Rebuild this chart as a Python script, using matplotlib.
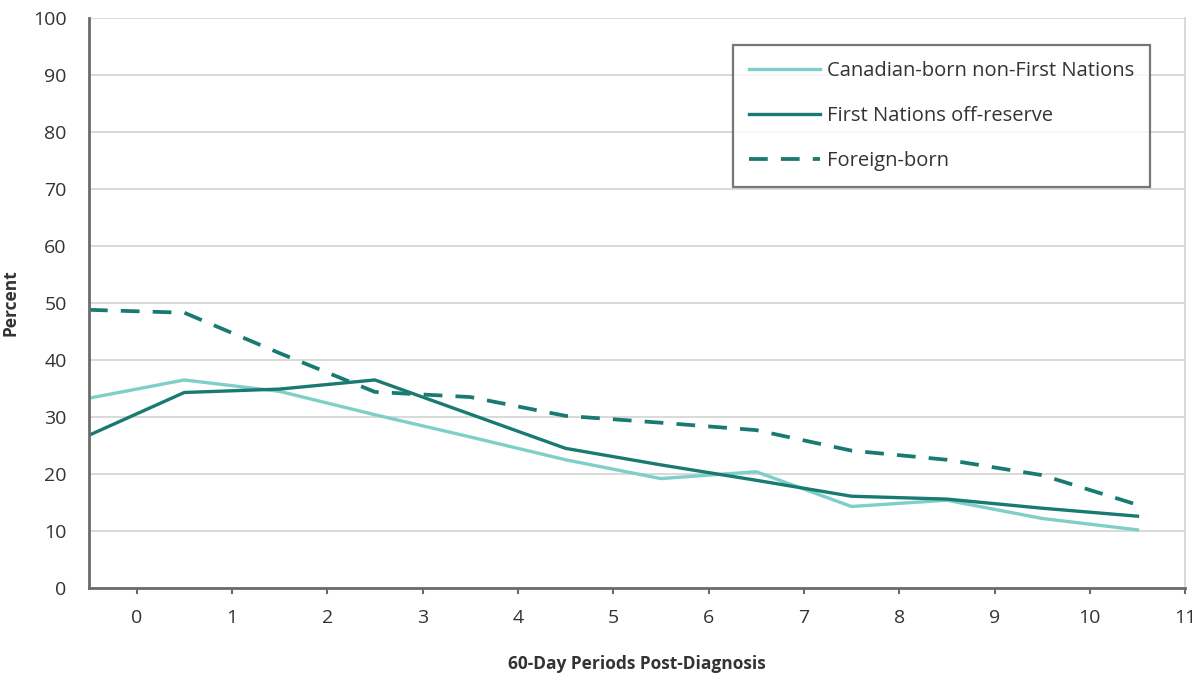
import matplotlib.pyplot as plt

plt.rcParams['font.family'] = ['Open Sans', 'DejaVu Sans']

# data points sit between the tick marks (category-style axis)
periods = [-0.5, 0.5, 1.5, 2.5, 3.5, 4.5, 5.5, 6.5, 7.5, 8.5, 9.5, 10.5]
canadian_born = [33.3, 36.5, 34.5, 30.4, 26.5, 22.5, 19.2, 20.4, 14.3, 15.4, 12.2, 10.2]
first_nations = [26.8, 34.3, 34.9, 36.5, 30.5, 24.5, 21.6, 18.9, 16.1, 15.6, 14.0, 12.6]
foreign_born = [48.8, 48.3, 41.2, 34.4, 33.5, 30.2, 29.0, 27.7, 24.1, 22.5, 19.8, 14.6]

x_ticks = list(range(0, 12))
y_ticks = list(range(0, 101, 10))

light_teal = "#7fcfc9"
dark_teal = "#187a70"

fig = plt.figure(figsize=(12.02, 6.79), dpi=100)
ax = fig.add_axes([0.074, 0.134, 0.912, 0.8395])

ax.plot(periods, canadian_born, color=light_teal, lw=2.4, label="Canadian-born non-First Nations")
ax.plot(periods, first_nations, color=dark_teal, lw=2.4, label="First Nations off-reserve")
ax.plot(periods, foreign_born, color=dark_teal, lw=2.7, dashes=(5, 3.5), label="Foreign-born")

ax.set_xlim(-0.5, 11)
ax.set_ylim(0, 100)
ax.set_xticks(x_ticks)
ax.set_yticks(y_ticks)
ax.grid(axis="y", color="#d9d9d9", lw=1.4)
ax.set_axisbelow(True)

for side in ["left", "bottom"]:
    ax.spines[side].set_color("#6b6b6b")
    ax.spines[side].set_linewidth(2)
ax.spines["right"].set_color("#d9d9d9")
ax.spines["right"].set_linewidth(1.4)
ax.spines["top"].set_visible(False)

ax.tick_params(axis="x", length=4, width=1.5, color="#6b6b6b", labelsize=14, labelcolor="#333333", pad=11)
ax.tick_params(axis="y", length=0, labelsize=14, labelcolor="#333333", pad=16)

ax.set_xlabel("60-Day Periods Post-Diagnosis", fontsize=12.5, fontweight="bold", color="#333333", labelpad=20)
ax.set_ylabel("Percent", fontsize=12.5, fontweight="bold", color="#333333", labelpad=10)

leg = ax.legend(loc="upper right", bbox_to_anchor=(0.968, 0.953), fontsize=14.5, frameon=True,
                fancybox=False, handlelength=3.5, handletextpad=0.35, labelspacing=1.25,
                borderpad=0.8, borderaxespad=0, labelcolor="#333333")
leg.get_frame().set_edgecolor("#555555")
leg.get_frame().set_linewidth(1.6)

fig.savefig("out.png", dpi=100)
